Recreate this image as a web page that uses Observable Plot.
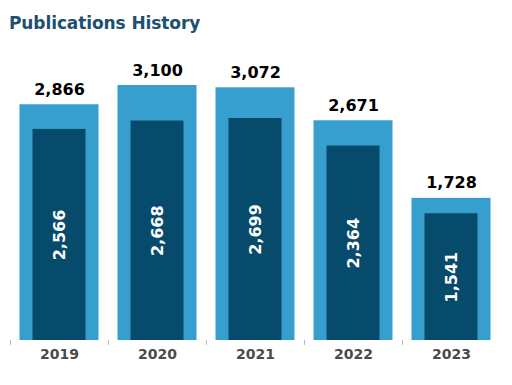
<!DOCTYPE html>
<html><head><meta charset="utf-8">
<script src="https://cdn.jsdelivr.net/npm/d3@7"></script>
<script src="https://cdn.jsdelivr.net/npm/@observablehq/plot@0.6"></script>
<style>
body{margin:0;background:#fff;width:512px;height:385px;overflow:hidden;font-family:"DejaVu Sans",sans-serif}
#title{height:40px;box-sizing:border-box;padding:13px 0 0 9px;font-size:17px;line-height:20px;font-weight:bold;color:#1d4f6e;letter-spacing:-0.1px}
</style></head>
<body>
<div id="title">Publications History</div>
<div id="chart"></div>
<script>
const years = ["2019","2020","2021","2022","2023"];
const totals = [2866, 3100, 3072, 2671, 1728];
const inner = [2566, 2668, 2699, 2364, 1541];

const data = years.map((y,i)=>({year:y,total:totals[i],inner:inner[i]}));
const fmt = d3.format(",");
const chart = Plot.plot({
  width:512, height:345,
  marginLeft:10, marginRight:12, marginTop:45, marginBottom:45,
  style:{fontFamily:"DejaVu Sans, sans-serif", background:"#fff"},
  x:{domain:years, padding:0, label:null},
  y:{domain:[0,3100], axis:null},
  marks:[
    Plot.barY(data,{x:"year", y:"total", fill:"#369fcd", insetLeft:9.5, insetRight:9.5}),
    Plot.barY(data,{x:"year", y:"inner", fill:"#064a6c", insetLeft:22.5, insetRight:22.5}),
    Plot.text(data,{x:"year", y:"total", text:d=>fmt(d.total), dy:-15, fontSize:16, fontWeight:"bold", fill:"#000"}),
    Plot.text(data,{x:"year", y:d=>d.inner/2, text:d=>fmt(d.inner), rotate:-90, fontSize:16, fontWeight:"bold", fill:"#fff"}),
    Plot.ruleX(data,{x:"year", dx:-49, y1:0, y2:-60, stroke:"#bbb"}),
    Plot.axisX({tickSize:0, tickPadding:9, fontSize:14, fill:"#4a4a4a", fontWeight:"bold"})
  ]
});
document.getElementById("chart").appendChild(chart);
</script>
</body></html>
